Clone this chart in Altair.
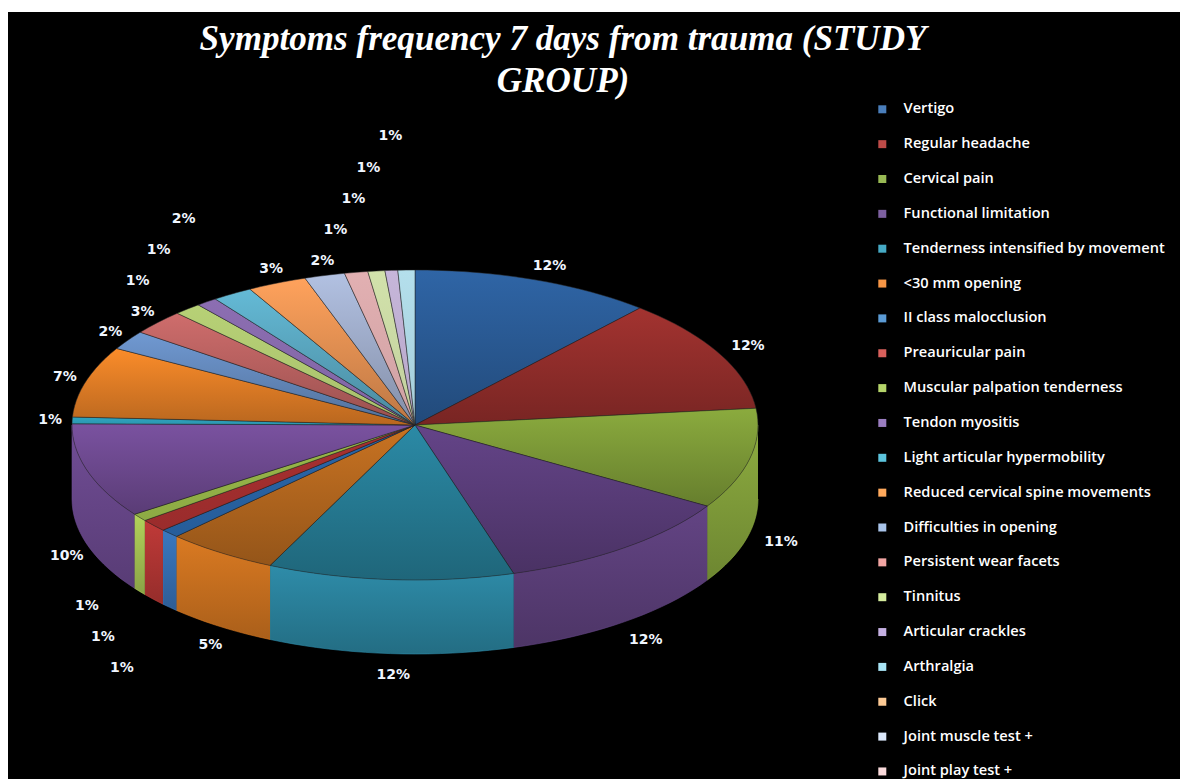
import math
import altair as alt
import pandas as pd

names = ["Vertigo", "Regular headache", "Cervical pain", "Functional limitation",
         "Tenderness intensified by movement", "<30 mm opening", "II class malocclusion",
         "Preauricular pain", "Muscular palpation tenderness", "Tendon myositis",
         "Light articular hypermobility", "Reduced cervical spine movements",
         "Difficulties in opening", "Persistent wear facets", "Tinnitus", "Articular crackles",
         "Arthralgia", "Click", "Joint muscle test +", "Joint play test +", " ", "  ", "   "]
values = [11.4, 11.9, 10.5, 11.6, 11.6, 5.3, 0.9, 1.3, 0.8, 9.9, 0.7, 7.4,
          2.0, 2.6, 1.3, 1.0, 1.9, 2.8, 1.9, 1.1, 0.8, 0.6, 0.8]
labels = ["12%", "12%", "11%", "12%", "12%", "5%", "1%", "1%", "1%", "10%", "1%", "7%",
          "2%", "3%", "1%", "1%", "2%", "3%", "2%", "1%", "1%", "1%", "1%"]
face_colors = ["#2f65a6", "#a33330", "#8bab3e", "#644488", "#2b8aa6", "#c97322",
               "#2a66a8", "#a83030", "#9ab94a", "#7a52a0", "#2fa4bf", "#fb8c2a",
               "#7099d2", "#cf6d6c", "#b7d176", "#8c6eb2", "#64bad6", "#ffa25c",
               "#b2c1e2", "#e2b0b2", "#d2e2ab", "#c6b6da", "#b4dfec"]
wall_colors = ["#2f65a6", "#a33330", "#8dac40", "#634484", "#2e8ca9", "#da7a22",
               "#3a78c0", "#c03a38", "#b2d25a", "#714d96", "#2fa4bf", "#fb8c2a",
               "#7099d2", "#cf6d6c", "#b7d176", "#8c6eb2", "#64bad6", "#ffa25c",
               "#b2c1e2", "#e2b0b2", "#d2e2ab", "#c6b6da", "#b4dfec"]
legend_colors = ["#4a7ebb", "#be4b48", "#98b954", "#7d60a0", "#46aac5", "#f79646",
                 "#5b9bd5", "#d9605c", "#b5d56a", "#9a7dc0", "#5cc4dd", "#ffa95c",
                 "#a9c4ea", "#f2a5a3", "#d5ec9e", "#c5b0e2", "#a8e4f5", "#fdca95",
                 "#dbe8fb", "#fadadb", "#e5f2c9", "#dcd0ee", "#d0f0fa"]
title_lines = ["Symptoms frequency 7 days from trauma (STUDY", "GROUP)"]

W, H = 1172, 767
CX, CY, RX, RY, DEPTH = 407, 413, 343, 155, 74
LABEL_RX, LABEL_RY = RX + 27, RY + 15


def shade(hex_color, k):
    r, g, b = (int(hex_color[i:i + 2], 16) for i in (1, 3, 5))
    return "#%02x%02x%02x" % (int(r * k), int(g * k), int(b * k))


def grad(top, k):
    return alt.LinearGradient(gradient="linear", x1=0, x2=0, y1=0, y2=1,
                              stops=[alt.GradientStop(offset=0, color=top),
                                     alt.GradientStop(offset=1, color=shade(top, k))])


def rim(t):
    a = math.radians(t)
    return CX + RX * math.sin(a), CY - RY * math.cos(a)


total = sum(values)
edges = [0.0]
for v in values:
    edges.append(edges[-1] + v / total * 360)

xs = alt.Scale(domain=[0, W], range=[0, W])
ys = alt.Scale(domain=[0, H], range=[0, H])
X = alt.X("x:Q", scale=xs, axis=None)
Y = alt.Y("y:Q", scale=ys, axis=None)


def poly(rows, fill, stroke, width):
    df = pd.DataFrame(rows, columns=["x", "y"]).assign(o=range(len(rows)))
    return alt.Chart(df).mark_line(fill=fill, stroke=stroke, strokeWidth=width, interpolate="linear",
                                   clip=False).encode(x=X, y=Y, order="o:Q")


layers = []
for i in range(len(values)):
    a, b = max(edges[i], 90), min(edges[i + 1], 270)
    if a < b:
        n = max(2, int((b - a) / 2))
        arc = [rim(a + (b - a) * j / n) for j in range(n + 1)]
        rows = arc + [(x, y + DEPTH) for x, y in reversed(arc)]
        layers.append(poly(rows, grad(wall_colors[i], 0.78), shade(wall_colors[i], 1.0), 0.6))

for i in range(len(values)):
    a, b = edges[i], edges[i + 1]
    n = max(2, int((b - a) / 2))
    rows = [(CX, CY)] + [rim(a + (b - a) * j / n) for j in range(n + 1)] + [(CX, CY)]
    layers.append(poly(rows, grad(face_colors[i], 0.92 if values[i] < 1.5 else 0.74), "#222222", 0.5))

# Percent labels: outside the rim at each slice's mid angle, crowded runs fanned out.
pos = []
for i in range(len(values)):
    t = (edges[i] + edges[i + 1]) / 2
    s, c = math.sin(math.radians(t)), math.cos(math.radians(t))
    y = CY - LABEL_RY * c + (DEPTH + 6 if 90 < t < 270 else 0)
    pos.append([CX + 5 + LABEL_RX * s, y])
pos[8][0] -= 36
for prev, cur, dx, dy in [(8, 7, 16, 31), (7, 6, 19, 31), (13, 14, -5, -31), (14, 15, 21, -31),
                          (15, 16, 25, -31), (18, 19, 13, -31), (19, 20, 18, -31),
                          (20, 21, 15, -31), (21, 22, 22, -32)]:
    pos[cur] = [pos[prev][0] + dx, pos[prev][1] + dy]
lab_df = pd.DataFrame({"x": [p[0] for p in pos], "y": [p[1] for p in pos], "t": labels})
layers.append(alt.Chart(lab_df).mark_text(font="DejaVu Sans", fontSize=14, fontWeight="bold", color="#f0f6ff",
                                          align="center", baseline="middle").encode(x=X, y=Y, text="t:N"))

legend = alt.Legend(title=None, orient="none", legendX=867, legendY=90, values=names[:20],
                    symbolType="square", symbolSize=64, symbolStrokeWidth=0, symbolOpacity=1,
                    labelColor="white", labelFont="Open Sans", labelFontSize=14.6, labelFontWeight=600,
                    labelOffset=14, rowPadding=19.85, labelLimit=320)
layers.append(alt.Chart(pd.DataFrame({"name": names})).mark_point(filled=True, size=0, opacity=1).encode(
    x=alt.value(0), y=alt.value(0),
    color=alt.Color("name:N", scale=alt.Scale(domain=names, range=legend_colors), legend=legend)))

chart = alt.layer(*layers).properties(
    width=W, height=H, autosize="none", padding={"left": 0, "top": 4, "right": 0, "bottom": 0},
    background="white",
    title=alt.TitleParams(text=title_lines, font="Liberation Serif", fontSize=35.1, fontStyle="italic",
                          fontWeight="bold", color="white", anchor="middle", frame="group", dx=-31,
                          offset=-87, lineHeight=42),
).configure_view(fill="black", strokeWidth=0)

chart.save("out.html", embed_options={"renderer": "svg", "actions": False})
